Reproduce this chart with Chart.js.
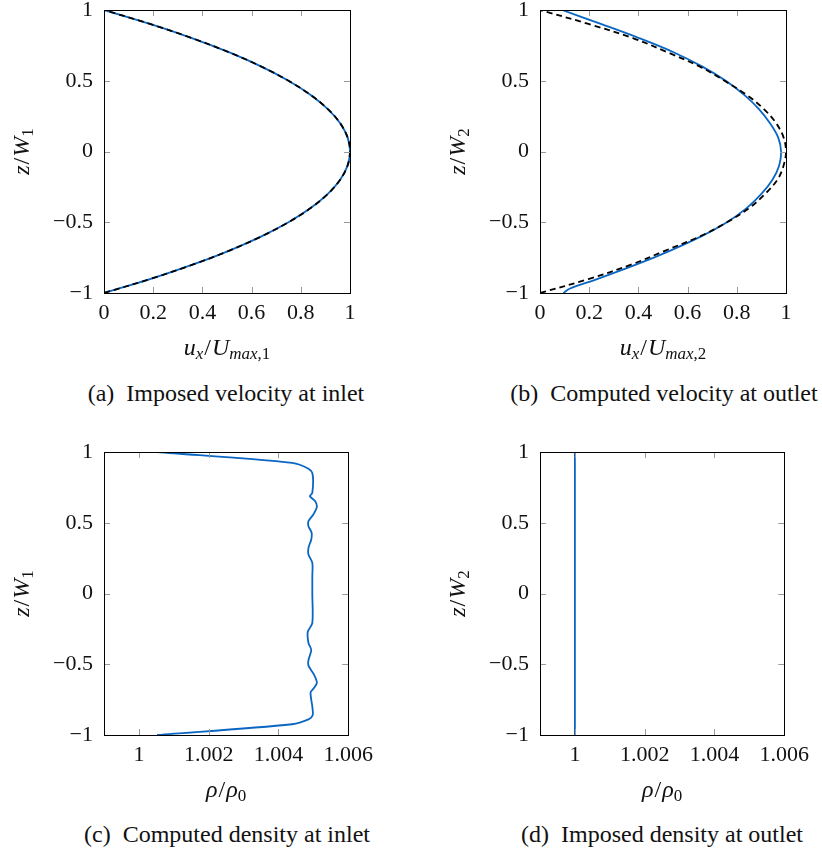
<!DOCTYPE html>
<html lang="en">
<head>
<meta charset="UTF-8" />
<title>Velocity and density profiles</title>
<script src="https://cdn.jsdelivr.net/npm/chart.js@4"></script>
<style>
  body { margin: 0; background: #fff; width: 822px; height: 852px; position: relative; overflow: hidden; font-family: "Liberation Serif", "DejaVu Serif", serif; }
  canvas { position: absolute; }
  .cap { position: absolute; font-size: 24px; white-space: nowrap; transform: translateX(-50%); color: #111; }
</style>
</head>
<body>
<canvas id="chartA" width="370" height="370" style="left:10px;top:0px"></canvas>
<canvas id="chartB" width="370" height="370" style="left:446px;top:0px"></canvas>
<canvas id="chartC" width="370" height="370" style="left:10px;top:442px"></canvas>
<canvas id="chartD" width="370" height="370" style="left:446px;top:442px"></canvas>
<div class="cap" style="left:226px;top:380px">(a)&nbsp; Imposed velocity at inlet</div>
<div class="cap" style="left:664px;top:380px">(b)&nbsp; Computed velocity at outlet</div>
<div class="cap" style="left:227px;top:821px">(c)&nbsp; Computed density at inlet</div>
<div class="cap" style="left:662px;top:821px">(d)&nbsp; Imposed density at outlet</div>
<script>
  // tick values / labels
  const zTicks = [-1, -0.5, 0, 0.5, 1];
  const zTickLabels = ["\u22121", "\u22120.5", "0", "0.5", "1"];
  const uTicks = [0, 0.2, 0.4, 0.6, 0.8, 1];
  const uTickLabels = ["0", "0.2", "0.4", "0.6", "0.8", "1"];
  const rhoTicks = [1, 1.002, 1.004, 1.006];
  const rhoTickLabels = ["1", "1.002", "1.004", "1.006"];

  // (a) imposed velocity at inlet
  const zInlet = [-1, -0.9, -0.8, -0.7, -0.6, -0.5, -0.4, -0.3, -0.2, -0.1, 0, 0.1, 0.2, 0.3, 0.4, 0.5, 0.6, 0.7, 0.8, 0.9, 1];
  const uInletSim = [0, 0.19, 0.36, 0.51, 0.64, 0.75, 0.84, 0.91, 0.96, 0.99, 1, 0.99, 0.96, 0.91, 0.84, 0.75, 0.64, 0.51, 0.36, 0.19, 0];
  const uInletRef = [0, 0.19, 0.36, 0.51, 0.64, 0.75, 0.84, 0.91, 0.96, 0.99, 1, 0.99, 0.96, 0.91, 0.84, 0.75, 0.64, 0.51, 0.36, 0.19, 0];

  // (b) computed velocity at outlet
  const zOutletSim = [-1, -0.97, -0.9, -0.8, -0.7, -0.6, -0.5, -0.4, -0.3, -0.2, -0.1, 0, 0.1, 0.2, 0.3, 0.4, 0.5, 0.6, 0.7, 0.8, 0.9, 1];
  const uOutletSim = [0.095, 0.12, 0.235, 0.39, 0.53, 0.655, 0.76, 0.84, 0.9, 0.945, 0.972, 0.98, 0.968, 0.935, 0.89, 0.83, 0.755, 0.66, 0.545, 0.405, 0.25, 0.09];
  const zOutletRef = [-1, -0.9, -0.8, -0.7, -0.6, -0.5, -0.4, -0.3, -0.2, -0.1, 0, 0.1, 0.2, 0.3, 0.4, 0.5, 0.6, 0.7, 0.8, 0.9, 1];
  const uOutletRef = [0, 0.2, 0.37, 0.51, 0.65, 0.76, 0.85, 0.915, 0.965, 0.99, 1, 0.99, 0.96, 0.91, 0.84, 0.75, 0.65, 0.52, 0.38, 0.2, 0];

  // (c) computed density at inlet
  const zRhoInlet = [1, 0.923, 0.881, 0.841, 0.711, 0.688, 0.653, 0.612, 0.558, 0.511, 0.476, 0.429, 0.382, 0.323, 0.276, 0.217, 0.122, 0,
    -0.21, -0.27, -0.35, -0.4, -0.47, -0.51, -0.57, -0.63, -0.67, -0.7, -0.8, -0.86, -0.89, -0.924, -1];
  const rhoInlet = [1.00052, 1.00439, 1.00486, 1.00498, 1.00497, 1.0049, 1.00505, 1.0051, 1.005, 1.00486, 1.00486, 1.00495, 1.00494, 1.00486, 1.00486, 1.00497, 1.00497, 1.00497,
    1.00497, 1.00484, 1.00486, 1.00494, 1.00486, 1.00486, 1.00501, 1.0051, 1.00501, 1.00492, 1.00497, 1.00498, 1.00486, 1.00439, 1.00052];

  // (d) imposed density at outlet
  const zRhoOutlet = [-1, 1];
  const rhoOutlet = [1, 1];

  const blue = "#0a66c2";
  const fontName = '"Liberation Serif", "DejaVu Serif", serif';

  function pts(xs, ys) {
    return xs.map((x, i) => ({ x: x, y: ys[i] }));
  }

  // axis label with italic letters and subscripts
  function drawMath(ctx, segs, cx, cy, rotate) {
    const fontFor = (s) => (s.it ? "italic " : "") + (s.sub ? 17 : 24) + "px " + fontName;
    let w = 0;
    segs.forEach((s) => { ctx.font = fontFor(s); w += ctx.measureText(s.t).width + (s.t === "/" ? 2 : 0); });
    ctx.save();
    ctx.translate(cx, cy);
    if (rotate) ctx.rotate(-Math.PI / 2);
    ctx.fillStyle = "#111";
    ctx.textBaseline = "alphabetic";
    let x = -w / 2;
    segs.forEach((s) => {
      ctx.font = fontFor(s);
      if (s.t === "/") x += 1;
      ctx.fillText(s.t, x, s.sub ? 11 : 7);
      x += ctx.measureText(s.t).width + (s.t === "/" ? 1 : 0);
    });
    ctx.restore();
  }

  // box, inward ticks and axis labels
  function framePlugin(xTitle, yTitle) {
    return {
      id: "frame",
      afterDraw(chart) {
        const { ctx, chartArea: a, scales } = chart;
        ctx.save();
        ctx.strokeStyle = "#9a9a9a";
        ctx.lineWidth = 1;
        ctx.beginPath();
        scales.x.ticks.forEach((t) => {
          const px = Math.round(scales.x.getPixelForValue(t.value)) + 0.5;
          if (px < a.left + 2 || px > a.right - 2) return;
          ctx.moveTo(px, a.bottom); ctx.lineTo(px, a.bottom - 6);
          ctx.moveTo(px, a.top); ctx.lineTo(px, a.top + 6);
        });
        scales.y.ticks.forEach((t) => {
          const py = Math.round(scales.y.getPixelForValue(t.value)) + 0.5;
          if (py < a.top + 2 || py > a.bottom - 2) return;
          ctx.moveTo(a.left, py); ctx.lineTo(a.left + 6, py);
          ctx.moveTo(a.right, py); ctx.lineTo(a.right - 6, py);
        });
        ctx.stroke();
        ctx.strokeStyle = "#000";
        ctx.strokeRect(Math.round(a.left) + 0.5, Math.round(a.top) + 0.5, Math.round(a.right - a.left), Math.round(a.bottom - a.top));
        ctx.restore();
        drawMath(ctx, xTitle, (a.left + a.right) / 2, a.bottom + 55, false);
        drawMath(ctx, yTitle, a.left - 82, (a.top + a.bottom) / 2, true);
      },
    };
  }

  function makeChart(id, datasets, xMin, xMax, xTicks, xLabels, xTitle, yTitle) {
    return new Chart(document.getElementById(id), {
      type: "scatter",
      data: { datasets: datasets },
      options: {
        responsive: false,
        animation: false,
        layout: { padding: { left: 0, right: 30, top: 10, bottom: 7 } },
        plugins: { legend: { display: false }, tooltip: { enabled: false } },
        elements: { point: { radius: 0 } },
        scales: {
          x: {
            type: "linear",
            min: xMin,
            max: xMax,
            grid: { display: false, drawTicks: false },
            border: { display: false },
            afterBuildTicks: (s) => { s.ticks = xTicks.map((v) => ({ value: v })); },
            afterFit: (s) => { s.height = 70; },
            ticks: {
              padding: 7,
              color: "#111",
              font: { family: fontName, size: 22 },
              maxRotation: 0,
              autoSkip: false,
              callback: (v, i) => xLabels[i],
            },
          },
          y: {
            type: "linear",
            min: -1,
            max: 1,
            grid: { display: false, drawTicks: false },
            border: { display: false },
            afterBuildTicks: (s) => { s.ticks = zTicks.map((v) => ({ value: v })); },
            afterFit: (s) => { s.width = 94; s.paddingTop = 0; s.paddingBottom = 0; },
            ticks: {
              padding: 11,
              color: "#111",
              font: { family: fontName, size: 22 },
              autoSkip: false,
              callback: (v, i) => zTickLabels[i],
            },
          },
        },
      },
      plugins: [framePlugin(xTitle, yTitle)],
    });
  }

  const zW1 = [{ t: "z", it: 1 }, { t: "/" }, { t: "W", it: 1 }, { t: "1", sub: 1 }];
  const zW2 = [{ t: "z", it: 1 }, { t: "/" }, { t: "W", it: 1 }, { t: "2", sub: 1 }];
  const uU1 = [{ t: "u", it: 1 }, { t: "x", it: 1, sub: 1 }, { t: "/" }, { t: "U", it: 1 }, { t: "max", it: 1, sub: 1 }, { t: ",1", sub: 1 }];
  const uU2 = [{ t: "u", it: 1 }, { t: "x", it: 1, sub: 1 }, { t: "/" }, { t: "U", it: 1 }, { t: "max", it: 1, sub: 1 }, { t: ",2", sub: 1 }];
  const rhoLbl = [{ t: "\u03c1", it: 1 }, { t: "/" }, { t: "\u03c1", it: 1 }, { t: "0", sub: 1 }];

  const dashed = (data) => ({ data: data, showLine: true, borderColor: "#000", borderWidth: 1.8, borderDash: [6, 4], tension: 0.35, pointRadius: 0 });
  const solid = (data, tension) => ({ data: data, showLine: true, borderColor: blue, borderWidth: 1.8, tension: tension, pointRadius: 0 });

  function drawAll() {
    makeChart("chartA", [dashed(pts(uInletRef, zInlet)), solid(pts(uInletSim, zInlet), 0.35)], 0, 1, uTicks, uTickLabels, uU1, zW1);
    makeChart("chartB", [dashed(pts(uOutletRef, zOutletRef)), solid(pts(uOutletSim, zOutletSim), 0.35)], 0, 1, uTicks, uTickLabels, uU2, zW2);
    makeChart("chartC", [solid(pts(rhoInlet, zRhoInlet), 0.3)], 0.999, 1.006, rhoTicks, rhoTickLabels, rhoLbl, zW1);
    makeChart("chartD", [solid(pts(rhoOutlet, zRhoOutlet), 0)], 0.999, 1.006, rhoTicks, rhoTickLabels, rhoLbl, zW2);
  }

  Promise.all([
    document.fonts.load('22px "Liberation Serif"'),
    document.fonts.load('italic 22px "Liberation Serif"'),
  ]).then(drawAll, drawAll);
</script>
</body>
</html>
